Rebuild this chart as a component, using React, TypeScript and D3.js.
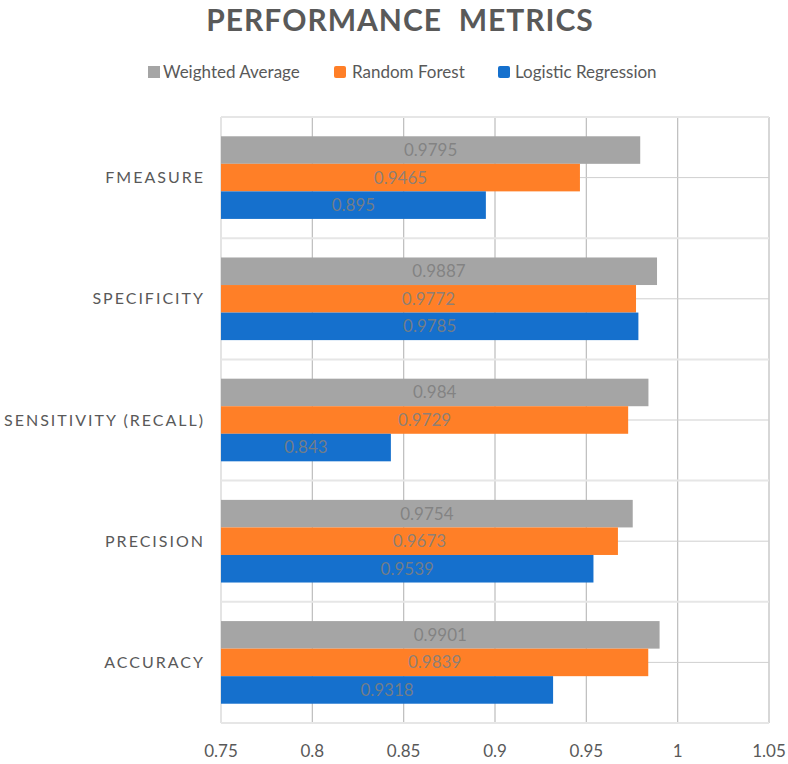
import React from 'react';
import * as d3 from 'd3';

const categories = ['FMEASURE', 'SPECIFICITY', 'SENSITIVITY (RECALL)', 'PRECISION', 'ACCURACY'];
const seriesNames = ['Weighted Average', 'Random Forest', 'Logistic Regression'];
const weightedAverage = [0.9795, 0.9887, 0.984, 0.9754, 0.9901];
const randomForest = [0.9465, 0.9772, 0.9729, 0.9673, 0.9839];
const logisticRegression = [0.895, 0.9785, 0.843, 0.9539, 0.9318];
const xTicks = [0.75, 0.8, 0.85, 0.9, 0.95, 1, 1.05];
const colors = ['#a5a5a5', '#ff7f27', '#1570cd'];

const W = 788;
const H = 764;
const FONT = 'Lato, "Open Sans", sans-serif';

export default function App() {
  const seriesValues = [weightedAverage, randomForest, logisticRegression];

  const x = d3.scaleLinear().domain([0.75, 1.05]).range([221, 769]);
  const y = d3.scaleBand<string>().domain(categories).range([117, 723]);
  const inner = d3
    .scaleBand<string>()
    .domain(seriesNames)
    .range([0, y.bandwidth()])
    .paddingInner(0)
    .paddingOuter(0.7);

  const legendItems = [
    { name: seriesNames[0], sx: 148, tx: 163 },
    { name: seriesNames[1], sx: 334, tx: 352 },
    { name: seriesNames[2], sx: 498, tx: 515 },
  ];

  return (
    <svg
      width={W}
      height={H}
      style={{ position: 'absolute', left: 0, top: 0, background: '#fff' }}
      fontFamily={FONT}
    >
      {/* title */}
      <text
        x={400}
        y={31}
        textAnchor="middle"
        fontSize={30}
        fontWeight="bold"
        fill="#595959"
        letterSpacing={1}
        style={{ whiteSpace: 'pre' }}
      >
        {'PERFORMANCE  METRICS'}
      </text>

      {/* legend */}
      {legendItems.map((d, i) => (
        <g key={d.name}>
          <rect x={d.sx} y={66} width={12} height={12} rx={i === 0 ? 0 : 2} fill={colors[i]} />
          <text x={d.tx} y={78} fontSize={17} fill="#595959">
            {d.name}
          </text>
        </g>
      ))}

      {/* vertical gridlines */}
      {xTicks.map((t, i) => (
        <line
          key={t}
          x1={x(t)}
          x2={x(t)}
          y1={117}
          y2={723}
          stroke={i === 0 ? '#e4e4e4' : '#bdbdbd'}
          strokeWidth={i === 0 ? 2 : 1.2}
        />
      ))}

      {/* horizontal lines: band centres and boundaries */}
      {categories.map((c) => (
        <line
          key={c + 'mid'}
          x1={x(0.75)}
          x2={x(1.05)}
          y1={(y(c) as number) + y.bandwidth() / 2}
          y2={(y(c) as number) + y.bandwidth() / 2}
          stroke="#cfcfcf"
          strokeWidth={1}
        />
      ))}
      {[...categories.map((c) => y(c) as number), 723].map((v, i) => (
        <line key={'b' + i} x1={x(0.75)} x2={x(1.05)} y1={v} y2={v} stroke="#e6e6e6" strokeWidth={2} />
      ))}

      {/* bars */}
      {categories.map((c, ci) =>
        seriesNames.map((s, si) => {
          const v = seriesValues[si][ci];
          const by = (y(c) as number) + (inner(s) as number);
          const bw = x(v) - x(0.75);
          return (
            <g key={c + s}>
              <rect x={x(0.75)} y={by} width={bw} height={inner.bandwidth()} fill={colors[si]} />
              <text
                x={x(0.75) + bw / 2}
                y={by + inner.bandwidth() / 2}
                dy="0.35em"
                textAnchor="middle"
                fontSize={17}
                fill="#7f7f7f"
                fillOpacity={0.9}
              >
                {String(v)}
              </text>
            </g>
          );
        })
      )}

      {/* category labels */}
      {categories.map((c) => (
        <text
          key={c}
          x={205}
          y={(y(c) as number) + y.bandwidth() / 2}
          dy="0.35em"
          textAnchor="end"
          fontSize={16}
          letterSpacing={2}
          fill="#595959"
        >
          {c}
        </text>
      ))}

      {/* x tick labels */}
      {xTicks.map((t) => (
        <text key={t} x={x(t)} y={757} textAnchor="middle" fontSize={17} fill="#595959">
          {String(t)}
        </text>
      ))}
    </svg>
  );
}
